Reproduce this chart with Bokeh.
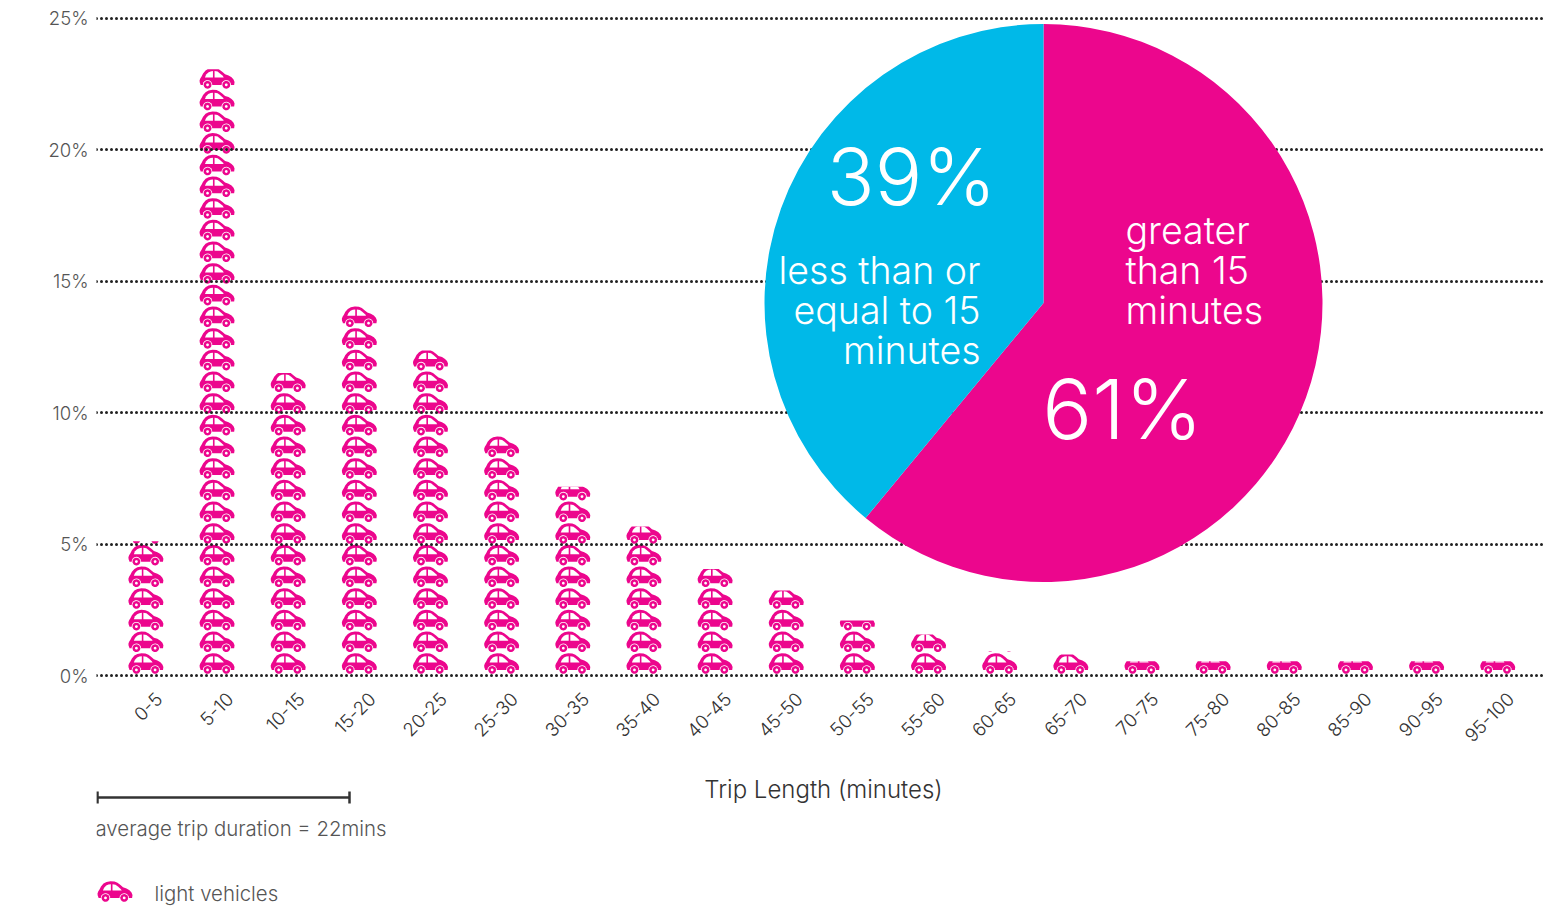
import math
import numpy as np
from bokeh.embed import file_html
from bokeh.resources import INLINE
from bokeh.plotting import figure
from bokeh.models import FixedTicker, Label, Range1d
from bokeh.core.properties import value

categories = ["0-5", "5-10", "10-15", "15-20", "20-25", "25-30", "30-35", "35-40", "40-45", "45-50",
              "50-55", "55-60", "60-65", "65-70", "70-75", "75-80", "80-85", "85-90", "90-95", "95-100"]
shares = [5.1, 23.05, 11.5, 14.03, 12.36, 9.09, 7.18, 5.67, 4.05, 3.23,
          2.09, 1.56, 0.91, 0.8, 0.54, 0.54, 0.54, 0.54, 0.54, 0.54]
y_ticks = [0, 5, 10, 15, 20, 25]
pie_values = [61, 39]
pie_colors = ["#EC068D", "#00B9E8"]

FONT = "Inter Light"
PINK = "#EC068D"
GREY = "#555555"
DARK = "#333333"

# reference pixel geometry
PX_X0, PX_DX = 145.4, 71.15     # picture x of first column, column pitch
PX_Y0, PX_PCT = 675.0, 26.3     # picture y of 0%, pixels per 1%
W, H = 1551, 907
F_L, F_R, F_T, F_B = 96, 1546, 0, 907
LABEL_SHIFT = 0.18


def X(px):
    return (px - PX_X0) / PX_DX


def Y(px):
    return (PX_Y0 - px) / PX_PCT


# car icon, in pixels from its left/bottom corner
BODY = [(1, 5), (0.2, 7), (0, 9), (0.7, 11), (2, 13), (3.5, 16), (6, 18.9), (9, 20.6), (13, 21.3), (17, 21),
        (20, 19.7), (23, 17.4), (25.5, 15.2), (29, 14), (32, 12.2), (34, 10), (35, 7.5), (34.6, 4.5), (1, 4.5)]
WIN_A = [(5.4, 12), (6.6, 14.8), (8.7, 17), (11, 18), (13.4, 18.3), (13.4, 12)]
WIN_B = [(15, 12), (15, 18.3), (18, 17.8), (20.4, 16), (23.2, 13.6), (24.2, 12)]
WHEELS = [(8, 4.6), (26.7, 4.6)]
ANG = np.linspace(0, 2 * math.pi, 18)[:-1]


def ring(c, r):
    return [(c[0] + r * math.cos(a), c[1] + r * math.sin(a)) for a in ANG]


def clip_top(poly, top):
    out = []
    n = len(poly)
    for i in range(n):
        a, b = poly[i], poly[(i + 1) % n]
        ina, inb = a[1] <= top, b[1] <= top
        if ina:
            out.append(a)
        if ina != inb:
            t = (top - a[1]) / (b[1] - a[1])
            out.append((a[0] + t * (b[0] - a[0]), top))
    return out


LAYERS = [
    ("body", [BODY], PINK),
    ("win", [WIN_A, WIN_B], "white"),
    ("rim", [ring(c, 4.7) for c in WHEELS], "white"),
    ("tyre", [ring(c, 3.9) for c in WHEELS], PINK),
    ("hub", [ring(c, 1.4) for c in WHEELS], "white"),
]


def car_polys(cx_px, base_px, top_px, shapes):
    xs, ys = [], []
    for s in shapes:
        c = clip_top(s, base_px - top_px)
        if len(c) >= 3:
            xs.append([X(cx_px - 17.5 + p[0]) for p in c])
            ys.append([Y(base_px - p[1]) for p in c])
    return xs, ys


p = figure(width=W, height=H, output_backend="svg", toolbar_location=None,
           x_range=Range1d(X(F_L), X(F_R)), y_range=Range1d(Y(F_B), Y(F_T)),
           min_border_left=F_L, min_border_right=W - F_R, min_border_top=F_T, min_border_bottom=H - F_B,
           outline_line_color=None, background_fill_color="white", border_fill_color="white")

PITCH = 21.67
for _, shapes, col in LAYERS:
    axs, ays = [], []
    for i, v in enumerate(shares):
        top_px = PX_Y0 - v * PX_PCT
        cx = PX_X0 + i * PX_DX
        base = 674.0
        while base > top_px:
            xs, ys = car_polys(cx, base, top_px, shapes)
            axs += xs
            ays += ys
            base -= PITCH
    # legend icon
    xs, ys = car_polys(114.5, 902.0, 0, shapes)
    axs += xs
    ays += ys
    p.patches(axs, ays, fill_color=col, line_color=None, level="image")

# axes
p.xgrid.visible = False
g = p.ygrid[0]
g.ticker = FixedTicker(ticks=y_ticks)
g.grid_line_color = "#222222"
g.grid_line_width = 3
g.grid_line_dash = "0 5"
g.grid_line_cap = "round"
g.level = "underlay"

xa = p.xaxis[0]
xa.fixed_location = 0
label_ticks = [round(i + LABEL_SHIFT, 2) for i in range(len(categories))]
xa.ticker = FixedTicker(ticks=label_ticks)
xa.major_label_overrides = dict(zip(label_ticks, categories))
xa.major_label_orientation = math.pi / 4
xa.major_label_standoff = 20
xa.major_label_text_font = FONT
xa.major_label_text_font_size = "18.5px"
xa.major_label_text_color = DARK
xa.axis_line_color = None
xa.major_tick_line_color = None
xa.major_tick_out = 0
xa.major_tick_in = 0
xa.minor_tick_line_color = None
xa.bounds = (X(100), X(1548))
xa.axis_label = "Trip Length (minutes)"
xa.axis_label_text_font = FONT
xa.axis_label_text_font_style = "normal"
xa.axis_label_text_font_size = "24px"
xa.axis_label_text_color = DARK
xa.axis_label_standoff = 24

ya = p.yaxis[0]
ya.ticker = FixedTicker(ticks=y_ticks)
ya.major_label_overrides = {t: f"{t}%" for t in y_ticks}
ya.major_label_standoff = 8
ya.major_label_text_font = FONT
ya.major_label_text_font_size = "18.5px"
ya.major_label_text_color = GREY
ya.axis_line_color = None
ya.major_tick_line_color = None
ya.major_tick_out = 0
ya.major_tick_in = 0
ya.minor_tick_line_color = None

p.add_layout(Label(x=X(24), y=Y(342.5), text="Percentage share of total trips", angle=math.pi / 2,
                   text_font=FONT, text_font_size="24.5px", text_color=DARK,
                   text_align="center", text_baseline="middle"))

# pie
angles = np.cumsum([0] + pie_values) / sum(pie_values) * 2 * math.pi
for k, col in enumerate(pie_colors):
    p.wedge(x=[X(1043)], y=[Y(302.5)], radius=279, radius_units="screen",
            start_angle=[math.pi / 2 - angles[k + 1]], end_angle=[math.pi / 2 - angles[k]],
            fill_color=col, line_color=None)

big = [("39%", 911, 175, "79px"), ("61%", 1122, 408, "83px")]
for t, x, y, size in big:
    p.text([X(x)], [Y(y)], text=[t], text_color="white", text_font=value(FONT), text_font_size=size,
           text_align="center", text_baseline="middle")
left_lines = [("less than or", 270), ("equal to 15", 310), ("minutes", 350)]
for t, y in left_lines:
    p.text([X(980)], [Y(y)], text=[t], text_color="white", text_font=value(FONT), text_font_size="37.5px",
           text_align="right", text_baseline="middle")
right_lines = [("greater", 230), ("than 15", 270), ("minutes", 310)]
for t, y in right_lines:
    p.text([X(1125)], [Y(y)], text=[t], text_color="white", text_font=value(FONT), text_font_size="37.5px",
           text_align="left", text_baseline="middle")

# average-trip bracket and legend
p.segment([X(97)], [Y(797)], [X(349)], [Y(797)], line_color=DARK, line_width=2.5)
for px in (97, 349):
    p.segment([X(px)], [Y(791)], [X(px)], [Y(803)], line_color=DARK, line_width=2.5)

for t, x, y in [("average trip duration = 22mins", 95, 828), ("light vehicles", 154, 893)]:
    p.add_layout(Label(x=X(x), y=Y(y), text=t, text_font=FONT, text_font_size="20.4px", text_color=GREY,
                       text_align="left", text_baseline="middle"))

open("out.html", "w").write(file_html(p, INLINE))
